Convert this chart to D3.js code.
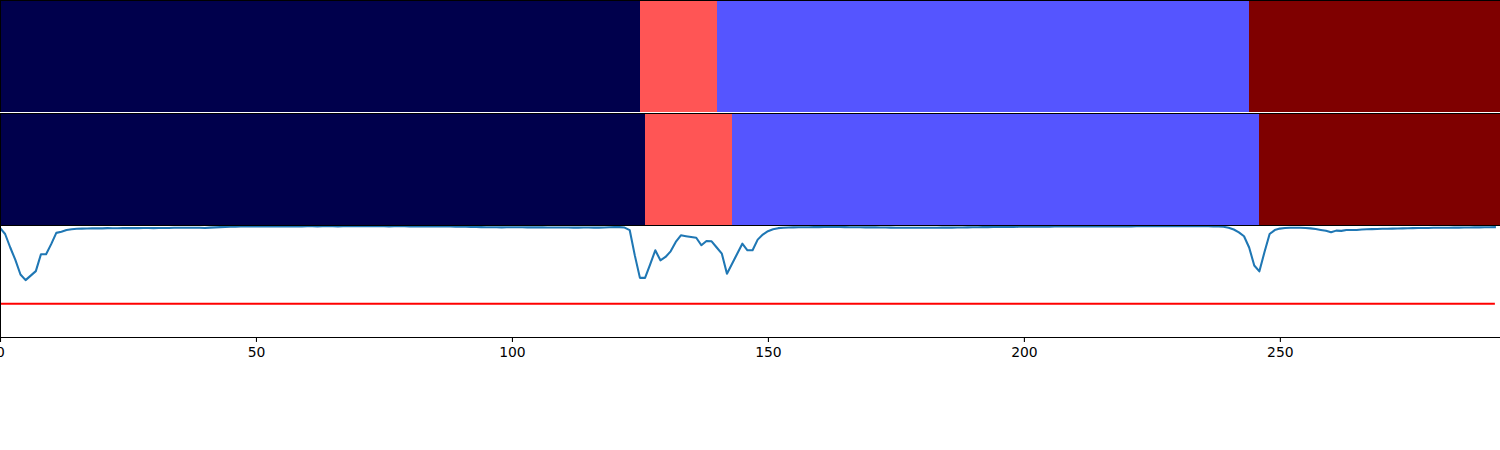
<!DOCTYPE html>
<html>
<head>
<meta charset="utf-8">
<script src="https://cdn.jsdelivr.net/npm/d3@7"></script>
<style>
  html, body { margin: 0; padding: 0; background: #fff; }
  svg { display: block; }
</style>
</head>
<body>
<svg id="chart" width="1500" height="450"></svg>
<script>
// ---------------- DATA ----------------
// Segmentation rows: segment start, end (in frames) and class id
const row1Start = [0, 125, 140, 244];
const row1End   = [125, 140, 244, 293];
const row1Class = [0, 2, 1, 3];

const row2Start = [0, 126, 143, 246];
const row2End   = [126, 143, 246, 293];
const row2Class = [0, 2, 1, 3];

// class colours (seismic colormap at 0, 1/3, 2/3, 1)
const classColors = ["#00004c", "#5555ff", "#ff5555", "#7f0000"];

// Score curve, one value per frame (0..292)
const score = [
0.975,0.92,0.80,0.69,0.56,0.51,0.55,0.59,0.74,0.74,
0.83,0.93,0.94,0.955,0.962,0.966,0.968,0.969,0.970,0.970,
0.970,0.972,0.971,0.971,0.972,0.973,0.972,0.972,0.973,0.973,
0.972,0.973,0.974,0.974,0.975,0.976,0.975,0.975,0.976,0.975,
0.974,0.977,0.979,0.981,0.982,0.984,0.985,0.986,0.986,0.987,
0.987,0.987,0.988,0.988,0.987,0.988,0.988,0.989,0.988,0.988,
0.989,0.989,0.988,0.989,0.989,0.989,0.988,0.989,0.989,0.990,
0.989,0.989,0.989,0.990,0.989,0.989,0.988,0.989,0.989,0.989,
0.988,0.988,0.988,0.987,0.987,0.987,0.986,0.986,0.986,0.985,
0.985,0.984,0.983,0.982,0.981,0.980,0.980,0.980,0.979,0.980,
0.980,0.980,0.980,0.979,0.979,0.979,0.979,0.978,0.978,0.978,
0.978,0.978,0.977,0.977,0.978,0.978,0.977,0.977,0.978,0.980,
0.981,0.981,0.977,0.955,0.73,0.53,0.53,0.65,0.775,0.686,
0.716,0.766,0.849,0.908,0.90,0.893,0.887,0.82,0.858,0.855,
0.80,0.745,0.567,0.655,0.745,0.834,0.775,0.775,0.87,0.915,
0.945,0.962,0.972,0.976,0.978,0.979,0.980,0.980,0.980,0.981,
0.981,0.982,0.982,0.983,0.983,0.981,0.980,0.980,0.980,0.979,
0.979,0.979,0.978,0.978,0.977,0.976,0.976,0.975,0.975,0.975,
0.976,0.975,0.976,0.976,0.977,0.977,0.977,0.978,0.978,0.979,
0.980,0.980,0.981,0.981,0.982,0.982,0.983,0.983,0.983,0.984,
0.984,0.984,0.985,0.985,0.985,0.985,0.986,0.986,0.986,0.986,
0.987,0.987,0.987,0.987,0.987,0.988,0.988,0.988,0.988,0.988,
0.988,0.988,0.989,0.989,0.989,0.989,0.989,0.989,0.990,0.990,
0.990,0.990,0.990,0.990,0.990,0.989,0.989,0.988,0.987,0.985,
0.976,0.96,0.935,0.90,0.80,0.64,0.588,0.76,0.92,0.955,
0.968,0.973,0.976,0.976,0.975,0.973,0.970,0.964,0.956,0.948,
0.935,0.950,0.948,0.955,0.955,0.956,0.960,0.962,0.963,0.965,
0.966,0.967,0.968,0.969,0.970,0.971,0.972,0.973,0.973,0.974,
0.975,0.975,0.976,0.976,0.977,0.977,0.978,0.978,0.979,0.979,
0.980,0.980,0.981
];
const threshold = 0.3;

const xTicks = [0, 50, 100, 150, 200, 250];
const xDomain = [0, 293];
const yDomain = [0, 1];

// ---------------- DRAW ----------------
const svg = d3.select("#chart");
const W = 1500;

const x = d3.scaleLinear().domain(xDomain).range([0, W]);

// panel vertical extents
const p1 = [0, 112];
const p2 = [113, 225];
const p3 = [225, 337.5];

function drawRow(starts, ends, classes, yr) {
  const segs = starts.map((s, i) => ({ s, e: ends[i], c: classes[i] }));
  svg.append("g").selectAll("rect").data(segs).join("rect")
    .attr("x", d => x(d.s))
    .attr("width", d => x(d.e) - x(d.s))
    .attr("y", yr[0])
    .attr("height", yr[1] - yr[0])
    .attr("fill", d => classColors[d.c])
    .attr("shape-rendering", "crispEdges");
}
drawRow(row1Start, row1End, row1Class, p1);
drawRow(row2Start, row2End, row2Class, p2);

// line panel
const y = d3.scaleLinear().domain(yDomain).range([p3[1], p3[0]]);

svg.append("clipPath").attr("id", "clip3")
  .append("rect").attr("x", 0).attr("y", p3[0]).attr("width", W).attr("height", p3[1] - p3[0]);

const g3 = svg.append("g").attr("clip-path", "url(#clip3)");

const thrData = score.map((_, i) => ({ i, v: threshold }));
g3.append("path")
  .datum(thrData)
  .attr("fill", "none")
  .attr("stroke", "#ff0000")
  .attr("stroke-width", 2.08)
  .attr("d", d3.line().x(d => x(d.i)).y(d => y(d.v)));

g3.append("path")
  .datum(score.map((v, i) => ({ i, v })))
  .attr("fill", "none")
  .attr("stroke", "#1f77b4")
  .attr("stroke-width", 2.08)
  .attr("stroke-linejoin", "round")
  .attr("stroke-linecap", "square")
  .attr("d", d3.line().x(d => x(d.i)).y(d => y(d.v)));

// spines
const spine = svg.append("g").attr("stroke", "#000").attr("stroke-width", 1.1).attr("shape-rendering", "crispEdges");
spine.append("line").attr("x1", 0).attr("x2", W).attr("y1", 0.5).attr("y2", 0.5);
spine.append("line").attr("x1", 0).attr("x2", W).attr("y1", 113.5).attr("y2", 113.5);
spine.append("line").attr("x1", 0).attr("x2", W).attr("y1", 225.5).attr("y2", 225.5);
spine.append("line").attr("x1", 0.5).attr("x2", 0.5).attr("y1", 0).attr("y2", 338);
// white separator under first panel
svg.append("line").attr("x1", 0).attr("x2", W).attr("y1", 112.5).attr("y2", 112.5)
  .attr("stroke", "#fff").attr("stroke-width", 1).attr("shape-rendering", "crispEdges");

// x axis
const axis = d3.axisBottom(x).tickValues(xTicks).tickSize(4.9).tickSizeOuter(0).tickPadding(4.9);
const ax = svg.append("g").attr("transform", "translate(0,337)").call(axis);
ax.select(".domain").attr("stroke", "#000").attr("stroke-width", 1.1);
ax.selectAll(".tick line").attr("stroke", "#000").attr("stroke-width", 1.1);
ax.selectAll(".tick text")
  .attr("fill", "#000")
  .style("font-family", "'DejaVu Sans', sans-serif")
  .style("font-size", "13.9px");
</script>
</body>
</html>
